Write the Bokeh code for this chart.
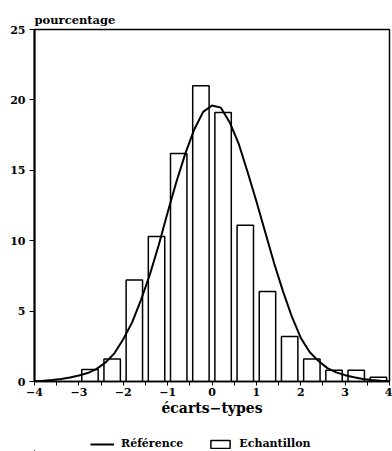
from bokeh.plotting import figure
from bokeh.models import Legend, LegendItem, FixedTicker, Range1d
from bokeh.layouts import column
from bokeh.embed import file_html
from bokeh.resources import INLINE

# ---- data ----
bar_centers = [-2.75, -2.25, -1.75, -1.25, -0.75, -0.25, 0.25, 0.75,
               1.25, 1.75, 2.25, 2.75, 3.25, 3.75]
bar_heights = [0.85, 1.6, 7.2, 10.3, 16.2, 21.0, 19.1, 11.1,
               6.4, 3.2, 1.6, 0.8, 0.8, 0.3]

curve_x = [-4.0, -3.8, -3.6, -3.4, -3.2, -3.0, -2.8, -2.6, -2.4, -2.2,
           -2.0, -1.8, -1.6, -1.4, -1.2, -1.0, -0.8, -0.6, -0.4, -0.2,
           0.0, 0.2, 0.4, 0.6, 0.8, 1.0, 1.2, 1.4, 1.6, 1.8,
           2.0, 2.2, 2.4, 2.6, 2.8, 3.0, 3.2, 3.4, 3.6, 3.8, 4.0]
curve_y = [0.02, 0.05, 0.10, 0.17, 0.28, 0.42, 0.60, 0.90, 1.35, 2.0,
           3.0, 4.2, 5.8, 7.6, 9.7, 12.0, 14.2, 16.2, 17.9, 19.15,
           19.6, 19.45, 18.4, 16.9, 14.9, 12.8, 10.6, 8.4, 6.4, 4.6,
           3.1, 2.1, 1.45, 0.95, 0.65, 0.45, 0.30, 0.18, 0.10, 0.05, 0.02]

x_ticks = [-4, -3, -2, -1, 0, 1, 2, 3, 4]
x_tick_labels = ["\u22124", "\u22123", "\u22122", "\u22121", "0", "1", "2", "3", "4"]
x_minor_ticks = [-3.5, -2.5, -1.5, -0.5, 0.5, 1.5, 2.5, 3.5]
y_ticks = [0, 5, 10, 15, 20, 25]

y_title = "pourcentage"
x_title = "\u00e9carts\u2212types"
series_names = ["R\u00e9f\u00e9rence", "Echantillon"]

FONT = "DejaVu Serif"

p = figure(width=392, height=430,
           x_range=Range1d(-4, 4), y_range=Range1d(0, 25),
           output_backend="svg", toolbar_location=None,
           min_border_left=34, min_border_right=3,
           min_border_top=29, min_border_bottom=49)
p.xgrid.visible = False
p.ygrid.visible = False
p.background_fill_color = "white"
p.border_fill_color = "white"
p.outline_line_color = "black"
p.outline_line_width = 1.5

bars = p.vbar(x=bar_centers, top=bar_heights, bottom=0, width=0.37,
              fill_color="white", line_color="black", line_width=1.5)
curve = p.line(curve_x, curve_y, line_color="black", line_width=2)

# title (y-axis caption above the frame)
p.title.text = y_title
p.title.align = "left"
p.title.offset = 0
p.title.standoff = 6
p.title.text_font = FONT
p.title.text_font_style = "bold"
p.title.text_font_size = "11.5px"
p.title.text_color = "black"

# axes
p.xaxis.ticker = FixedTicker(ticks=x_ticks, minor_ticks=x_minor_ticks)
p.xaxis.major_label_overrides = {t: l for t, l in zip(x_ticks, x_tick_labels)}
p.yaxis.ticker = FixedTicker(ticks=y_ticks)
for ax in (p.xaxis[0], p.yaxis[0]):
    ax.axis_line_color = "black"
    ax.major_tick_line_color = "black"
    ax.major_tick_in = 0
    ax.major_label_text_font = FONT
    ax.major_label_text_font_style = "bold"
    ax.major_label_text_font_size = "11px"
    ax.major_label_text_color = "black"
p.yaxis.axis_line_width = 2
p.xaxis.axis_line_width = 1.5
p.yaxis.major_tick_out = 5
p.yaxis.major_label_standoff = 4
p.yaxis.minor_tick_line_color = None
p.xaxis.major_tick_out = 4
p.xaxis.minor_tick_out = 4
p.xaxis.minor_tick_in = 0
p.xaxis.minor_tick_line_color = "black"
p.xaxis.major_label_standoff = 2
p.xaxis.axis_label = x_title
p.xaxis.axis_label_text_font = FONT
p.xaxis.axis_label_text_font_style = "bold"
p.xaxis.axis_label_text_font_size = "14px"
p.xaxis.axis_label_text_color = "black"
p.xaxis.axis_label_standoff = 1

# legend strip below the chart (same series, drawn outside its visible ranges)
pl = figure(width=392, height=21, x_range=Range1d(100, 101), y_range=Range1d(100, 101),
            output_backend="svg", toolbar_location=None,
            x_axis_type=None, y_axis_type=None,
            min_border_left=0, min_border_right=0,
            min_border_top=0, min_border_bottom=0)
pl.outline_line_color = None
pl.xgrid.visible = False
pl.ygrid.visible = False
pl.border_fill_color = "white"
pl.background_fill_color = "white"
leg_line = pl.line(curve_x, curve_y, line_color="black", line_width=2)
leg_bar = pl.vbar(x=bar_centers, top=bar_heights, bottom=0, width=0.37,
                  fill_color="white", line_color="black", line_width=1.5)
legend = Legend(items=[LegendItem(label=series_names[0], renderers=[leg_line]),
                       LegendItem(label=series_names[1], renderers=[leg_bar])],
                orientation="horizontal", location=(56, 1),
                glyph_width=24, glyph_height=10, label_standoff=7,
                spacing=25, padding=1, margin=0,
                border_line_color=None, background_fill_alpha=0,
                label_height=10,
                label_text_font=FONT, label_text_font_style="bold",
                label_text_font_size="11px", label_text_color="black")
pl.add_layout(legend)

layout = column(p, pl, spacing=0)
open("out.html", "w").write(file_html(layout, INLINE))
